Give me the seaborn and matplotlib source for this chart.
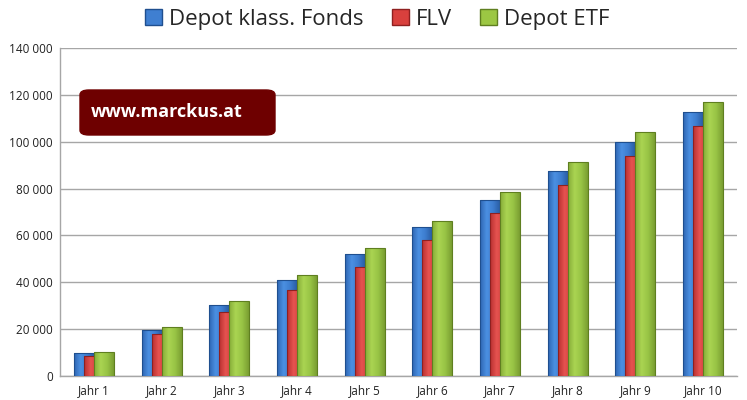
import matplotlib.pyplot as plt
import seaborn as sns
import pandas as pd
import numpy as np
from matplotlib.patches import FancyBboxPatch
from matplotlib.colors import LinearSegmentedColormap
from matplotlib.ticker import FuncFormatter, FixedLocator

# values
jahre = ['Jahr 1', 'Jahr 2', 'Jahr 3', 'Jahr 4', 'Jahr 5',
         'Jahr 6', 'Jahr 7', 'Jahr 8', 'Jahr 9', 'Jahr 10']
depot_fonds = [9800, 19800, 30200, 41000, 51900, 63500, 75000, 87400, 99700, 112500]
flv = [8700, 17800, 27300, 36800, 46700, 58000, 69700, 81700, 94000, 106800]
depot_etf = [10200, 20800, 31900, 43000, 54600, 66300, 78500, 91200, 104100, 117100]
series = ['Depot klass. Fonds', 'FLV', 'Depot ETF']

df = pd.DataFrame({
    'Jahr': jahre * 3,
    'Wert': depot_fonds + flv + depot_etf,
    'Serie': [series[0]] * 10 + [series[1]] * 10 + [series[2]] * 10,
})

colors = {'Depot klass. Fonds': '#3f7fd1', 'FLV': '#d9403d', 'Depot ETF': '#9cc743'}
edges = {'Depot klass. Fonds': '#1f4f8f', 'FLV': '#8f2020', 'Depot ETF': '#5f7f20'}
# light -> dark, for the shaded look of the original bars
shades = {'Depot klass. Fonds': ['#2f66b3', '#4b90e2', '#3d7dcf', '#2a5ea6'],
          'FLV': ['#b83030', '#e65350', '#d2403d', '#a82c2a'],
          'Depot ETF': ['#86ad38', '#aad452', '#98c445', '#7a9e32']}

sns.set_style('white')
plt.rcParams['font.family'] = ['Open Sans', 'DejaVu Sans']

fig = plt.figure(figsize=(7.47, 4.0), dpi=100)
ax = fig.add_axes([0.0803, 0.06, 0.9063, 0.82])

sns.barplot(data=df, x='Jahr', y='Wert', hue='Serie', palette=colors,
            saturation=1, width=0.9, ax=ax, legend=True)

# overlapping bars like the original: width 0.295, step 0.148
bw = 0.295
step = 0.148
grad = np.linspace(0, 1, 64).reshape(1, -1)
for k, cont in enumerate(ax.containers):
    name = series[k]
    cmap = LinearSegmentedColormap.from_list(name, shades[name])
    for i, p in enumerate(cont.patches):
        c = i + (k - 1) * step
        x0 = c - bw / 2
        p.set_x(x0)
        p.set_width(bw)
        h = p.get_height()
        img = ax.imshow(grad, extent=(x0, x0 + bw, 0, h), aspect='auto',
                        cmap=cmap, zorder=3 + k, interpolation='bilinear')
        img.set_clip_path(p)
        p.set_facecolor('none')
        p.set_edgecolor(edges[name])
        p.set_linewidth(0.8)
        p.set_zorder(3.5 + k)

ax.set_ylim(0, 140000)
ax.set_xlim(-0.5, 9.5)
ax.set_yticks(np.arange(0, 140001, 20000))
ax.yaxis.set_major_formatter(FuncFormatter(lambda v, _: f'{int(v):,}'.replace(',', ' ')))
ax.yaxis.grid(True, color='#a6a6a6', linewidth=1.0)
ax.set_axisbelow(True)
ax.set_xlabel('')
ax.set_ylabel('')
ax.tick_params(axis='y', labelsize=8.5, colors='#222222', length=0, pad=5)
ax.tick_params(axis='x', labelsize=8.5, colors='#222222', length=0, pad=6)
ax.xaxis.set_minor_locator(FixedLocator(np.arange(-0.5, 10, 1)))
ax.tick_params(axis='x', which='minor', length=5, color='#a6a6a6', width=1, direction='out')
for s in ['top', 'right']:
    ax.spines[s].set_visible(False)
for s in ['left', 'bottom']:
    ax.spines[s].set_color('#a6a6a6')
    ax.spines[s].set_linewidth(1.0)

leg = ax.legend(loc='center', ncol=3, frameon=False, fontsize=16,
                handlelength=0.75, handleheight=0.75,
                handletextpad=0.3, columnspacing=1.3)
leg.set_bbox_to_anchor((0.505, 0.952), transform=fig.transFigure)
for h, name in zip(leg.legend_handles, series):
    h.set_edgecolor(edges[name])

# watermark box
box = FancyBboxPatch((80 / 747, 1 - 135 / 400), 195 / 747, 45 / 400,
                     boxstyle='round,pad=0,rounding_size=0.012',
                     transform=fig.transFigure, facecolor='#6e0000',
                     edgecolor='#6e0000', zorder=10)
fig.patches.append(box)
fig.text(91 / 747, 1 - 112 / 400, 'www.marckus.at', color='white', fontsize=13,
         fontweight='bold', va='center', ha='left', zorder=11)

fig.savefig('out.png', dpi=100)
